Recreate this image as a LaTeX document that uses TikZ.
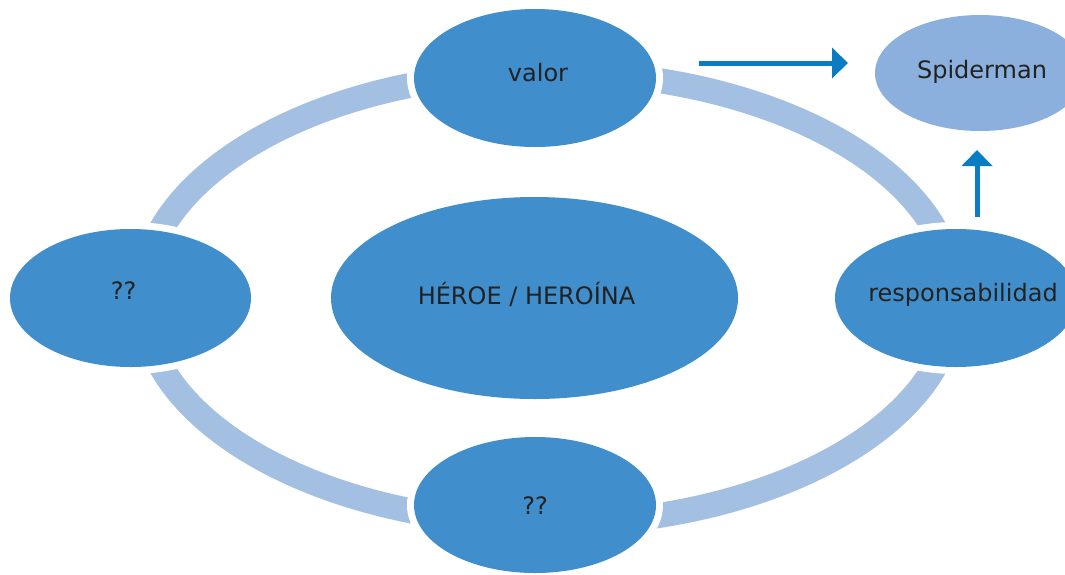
\documentclass[tikz,border=0pt]{standalone}
\usepackage{fontspec}
\setmainfont{DejaVu Sans}
\usetikzlibrary{shapes.geometric,arrows.meta}
\definecolor{nodeblue}{HTML}{408ECB}
\definecolor{lightnode}{HTML}{8BB0DD}
\definecolor{ringblue}{HTML}{A3BFE2}
\definecolor{arrowblue}{HTML}{0A7CC3}
\definecolor{txtgray}{HTML}{222222}
\begin{document}
\begin{tikzpicture}[x=1pt,y=-1pt,
  bubble/.style={ellipse, fill=nodeblue, inner sep=0pt,
    preaction={draw=white, line width=14pt}},
  lightbubble/.style={bubble, fill=lightnode, preaction={}},
  txt/.style={text=txtgray, inner sep=0pt,
    font=\fontsize{24}{28}\selectfont, text height=17pt, text depth=5pt},
  ring/.style={draw=ringblue, line width=25pt},
  flow/.style={draw=arrowblue, line width=5pt, -{Triangle[length=16pt,width=30pt]}}]
\useasboundingbox (0,0) rectangle (1065,574);
\clip (0,0) rectangle (1065,574);
% ring
\draw[ring] (548,298) ellipse [x radius=406, y radius=226];
% nodes
\node[bubble, minimum width=242pt, minimum height=138pt,
  label={[txt, xshift=3pt, yshift=3pt]center:valor}] (valor) at (535,78) {};
\node[bubble, minimum width=241pt, minimum height=138pt,
  label={[txt, xshift=-7pt, yshift=5pt]center:??}] (left) at (130.5,298) {};
\node[bubble, minimum width=242pt, minimum height=136pt,
  label={[txt, xshift=0pt, yshift=-3pt]center:??}] (bottom) at (535,505) {};
\node[bubble, minimum width=242pt, minimum height=138pt,
  label={[txt, xshift=7pt, yshift=3pt]center:responsabilidad}] (resp) at (956,298) {};
\node[bubble, minimum width=407pt, minimum height=202pt,
  label={[txt, xshift=-8pt, yshift=0pt]center:HÉROE / HEROÍNA}] (hero) at (534.5,298) {};
\node[lightbubble, minimum width=210pt, minimum height=116pt,
  label={[txt, xshift=2pt, yshift=1pt]center:Spiderman}] (spider) at (980,73) {};
% arrows
\coordinate (h1) at (699,63);
\coordinate (h2) at (848,63);
\coordinate (v1) at (977,217);
\coordinate (v2) at (977,150);
\draw[flow] (h1) -- (h2);
\draw[flow] (v1) -- (v2);
\end{tikzpicture}
\end{document}
